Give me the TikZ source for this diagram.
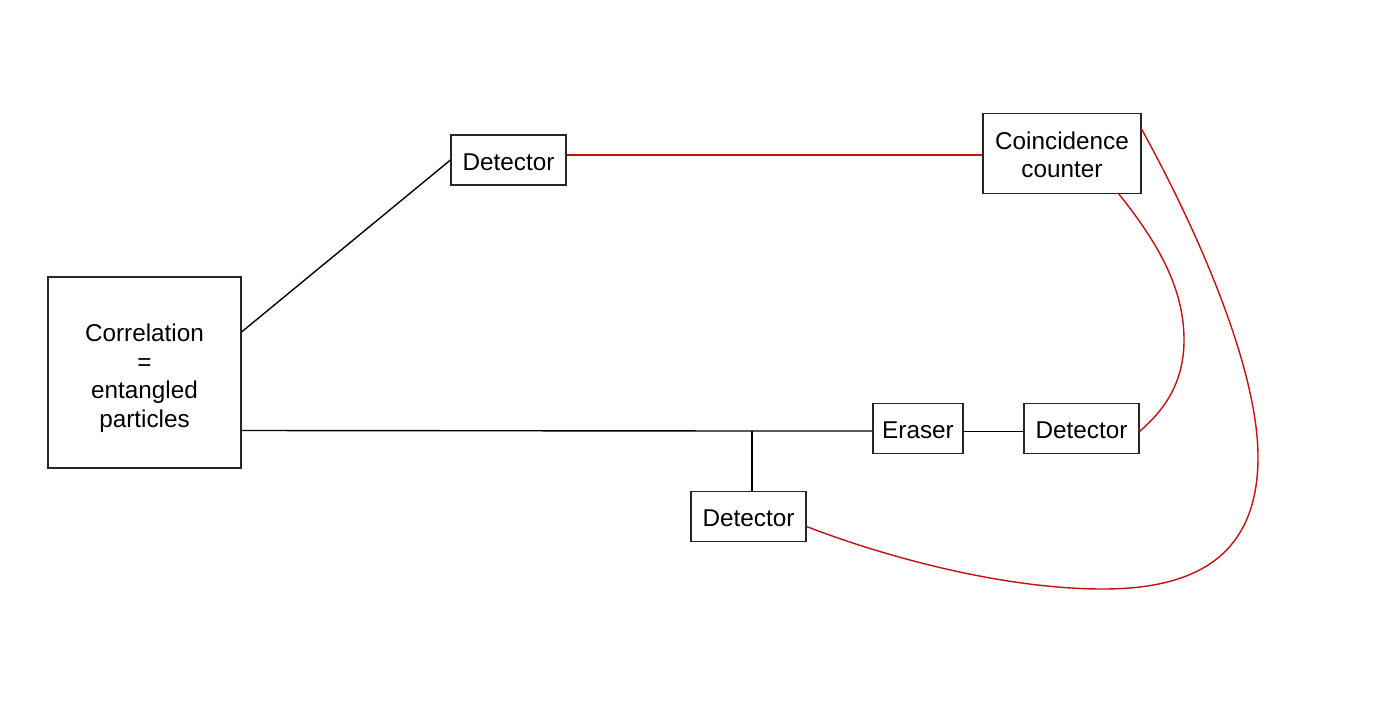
\documentclass[tikz,border=0pt]{standalone}
\usepackage{fontspec}
\setmainfont{Liberation Sans}
\definecolor{wirered}{RGB}{196,16,16}
\begin{document}
\begin{tikzpicture}[x=1pt,y=-1pt,
  box/.style={draw=black!85,line width=1.1pt,inner sep=0pt,align=center,
    font=\fontsize{24.3}{28.5}\selectfont},
  wire/.style={line width=1.4pt,black},
  rwire/.style={line width=1.4pt,wirered}]
\fill[white] (0,0) rectangle (1400,704);
\useasboundingbox (0,0) rectangle (1400,704);
\node[box,minimum width=193pt,minimum height=191pt] (corr) at (144.5,372.5) {\rule{0pt}{29pt}Correlation\\=\\entangled\\particles};
\node[box,minimum width=115pt,minimum height=50pt] (det1) at (508.5,160) {\rule{0pt}{21pt}Detector};
\node[box,minimum width=158pt,minimum height=80pt] (coin) at (1062,153.5) {\rule{0pt}{20pt}Coincidence\\counter};
\node[box,minimum width=90pt,minimum height=50pt] (eraser) at (918,428.5) {\rule{0pt}{21pt}Eraser};
\node[box,minimum width=115pt,minimum height=50pt] (det2) at (1081.5,428.5) {\rule{0pt}{21pt}Detector};
\node[box,minimum width=115pt,minimum height=50pt] (det3) at (748.5,516.5) {\rule{0pt}{21pt}Detector};
\coordinate (j) at (752,431);
% black connectors
\draw[wire] ([yshift=40.5pt]corr.east) -- (det1.west);
\draw[wire] ([yshift=-58pt]corr.east) -- (j) -- (j -| eraser.west);
\draw[wire] (j) -- (j |- det3.north);
\draw[wire] ([yshift=-3pt]eraser.east) -- ([yshift=-3pt]det2.west);
% red connectors
\draw[rwire] ([yshift=5pt]det1.east) -- ([yshift=5pt]det1.east -| coin.west);
\draw[rwire] (1118,193) .. controls (1160,245) and (1184,290) .. (1184,340)
  .. controls (1184,385) and (1162,412) .. ([yshift=-3pt]det2.east);
\draw[rwire] (1141,128) .. controls (1200,235) and (1258,370) .. (1258,457)
  .. controls (1258,560) and (1190,589) .. (1103,589)
  .. controls (1000,589) and (880,555) .. ([yshift=-10pt]det3.east);
\end{tikzpicture}
\end{document}
